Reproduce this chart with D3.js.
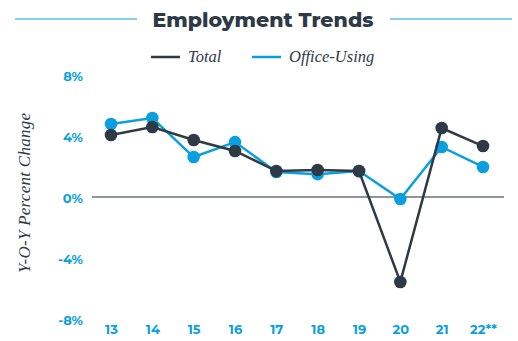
<!DOCTYPE html>
<html><head><meta charset="utf-8">
<script src="https://cdn.jsdelivr.net/npm/d3@7"></script>
<style>html,body{margin:0;padding:0;background:#fff;}</style>
</head><body>
<script>
const years = ["13","14","15","16","17","18","19","20","21","22**"];
const totalValues = [4.07, 4.59, 3.74, 3.02, 1.70, 1.77, 1.70, -5.57, 4.52, 3.34];
const officeValues = [4.79, 5.18, 2.62, 3.60, 1.64, 1.50, 1.70, -0.13, 3.28, 1.97];
const yTicks = [8, 4, 0, -4, -8];
const seriesNames = ["Total", "Office-Using"];

const W = 518, H = 341;
const dark = "#2e3a46", blue = "#0a9fe0";
const svg = d3.select("body").append("svg").attr("width", W).attr("height", H);

// Title
svg.append("text").attr("x", 263).attr("y", 27).attr("text-anchor", "middle")
  .attr("font-family", "Montserrat, 'Open Sans', sans-serif").attr("font-weight", 800)
  .attr("font-size", 20.5).attr("fill", dark).text("Employment Trends");
svg.append("line").attr("x1", 15).attr("x2", 137).attr("y1", 19).attr("y2", 19).attr("stroke", blue).attr("stroke-width", 1.2);
svg.append("line").attr("x1", 390).attr("x2", 512).attr("y1", 19).attr("y2", 19).attr("stroke", blue).attr("stroke-width", 1.2);

// Legend
const legend = [{name: seriesNames[0], color: dark, x: 151}, {name: seriesNames[1], color: blue, x: 252}];
legend.forEach(d => {
  svg.append("line").attr("x1", d.x).attr("x2", d.x + 29).attr("y1", 57).attr("y2", 57).attr("stroke", d.color).attr("stroke-width", 2.5);
  svg.append("text").attr("x", d.x + 37).attr("y", 62).attr("font-family", "'Liberation Serif', serif")
    .attr("font-style", "italic").attr("font-size", 16.5).attr("fill", dark).text(d.name);
});

const x = d3.scalePoint().domain(years).range([111, 483]);
const y = d3.scaleLinear().domain([-8, 8]).range([319, 75]);

// Y axis labels
const yAxis = svg.append("g").attr("transform", "translate(83,1)")
  .call(d3.axisLeft(y).tickValues(yTicks).tickSize(0).tickPadding(0).tickFormat(d => d + "%"));
yAxis.select(".domain").remove();
yAxis.selectAll("text").attr("font-family", "Montserrat, 'Open Sans', sans-serif").attr("font-weight", 700)
  .attr("font-size", 13).attr("fill", blue);

// X axis labels
const xAxis = svg.append("g").attr("transform", "translate(0,325)")
  .call(d3.axisBottom(x).tickSize(0).tickPadding(0));
xAxis.select(".domain").remove();
xAxis.selectAll("text").attr("font-family", "Montserrat, 'Open Sans', sans-serif").attr("font-weight", 700)
  .attr("font-size", 13).attr("fill", blue);

// Y title
svg.append("text").attr("transform", "translate(30,193) rotate(-90)").attr("text-anchor", "middle")
  .attr("font-family", "'Liberation Serif', serif").attr("font-style", "italic")
  .attr("font-size", 17).attr("textLength", 160).attr("lengthAdjust", "spacing")
  .attr("fill", dark).text("Y-O-Y Percent Change");

// zero line
svg.append("line").attr("x1", 92).attr("x2", 504).attr("y1", y(0)).attr("y2", y(0))
  .attr("stroke", "#6b7278").attr("stroke-width", 1.3);

const line = d3.line().x((d, i) => x(years[i])).y(d => y(d));
[[officeValues, blue], [totalValues, dark]].forEach(([vals, c]) => {
  svg.append("path").datum(vals).attr("d", line).attr("fill", "none").attr("stroke", c).attr("stroke-width", 2.5);
  svg.selectAll(null).data(vals).enter().append("circle")
    .attr("cx", (d, i) => x(years[i])).attr("cy", d => y(d)).attr("r", 6.3).attr("fill", c);
});
</script>
</body></html>
